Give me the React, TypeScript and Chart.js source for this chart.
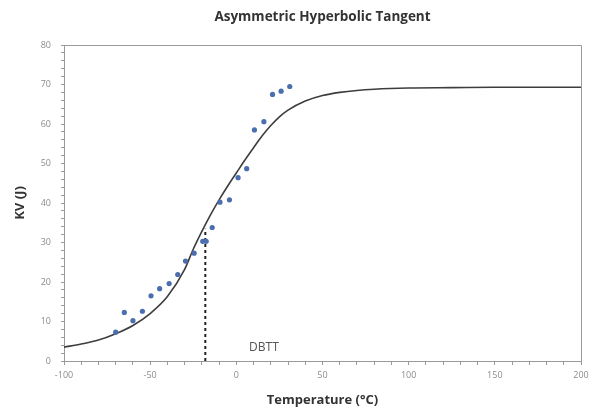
import React, { useEffect, useRef } from "react";
import { Chart, registerables } from "chart.js";

Chart.register(...registerables);

// Measured Charpy impact energies
const testTemps = [-70, -65, -60, -54.5, -49.5, -44.5, -39, -34, -29.5, -24.5, -19.5, -17.5, -14, -9.5, -4, 1, 6, 10.5, 16, 21, 26, 31];
const testKV = [7.3, 12.3, 10.2, 12.6, 16.5, 18.3, 19.6, 21.9, 25.3, 27.3, 30.3, 30.3, 33.8, 40.2, 40.8, 46.4, 48.7, 58.5, 60.6, 67.5, 68.3, 69.5];

// Fitted asymmetric hyperbolic tangent curve
const fitTemps = [-100, -90, -80, -70, -60, -50, -40, -30, -25, -20, -15, -10, -5, 0, 5, 10, 15, 20, 25, 30, 40, 50, 60, 70, 80, 100, 125, 150, 200];
const fitKV = [3.5, 4.3, 5.3, 6.9, 9.0, 12.0, 16.3, 23.2, 28.3, 32.8, 37.0, 40.8, 44.3, 47.6, 50.9, 54.0, 57.0, 59.6, 61.8, 63.5, 65.8, 67.2, 68.0, 68.5, 68.8, 69.1, 69.2, 69.3, 69.3];

// Ductile-brittle transition temperature marker
const dbttTemp = -18;
const dbttKV = [0, 33.5];
const dbttLabel = "DBTT";
const dbttLabelAt = { x: 16, y: 3.3 };

const titleText = "Asymmetric Hyperbolic Tangent";
const xTitle = "Temperature (°C)";
const yTitle = "KV (J)";

const AXIS_GRAY = "#9a9a9a";
const TICK_GRAY = "#8c8c8c";

const frameAndLabel = {
  id: "frameAndLabel",
  afterDatasetsDraw(chart: any) {
    const { ctx, chartArea, scales } = chart;
    ctx.save();
    ctx.strokeStyle = AXIS_GRAY;
    ctx.lineWidth = 1;
    ctx.beginPath();
    ctx.moveTo(chartArea.left, chartArea.top + 0.5);
    ctx.lineTo(chartArea.right + 0.5, chartArea.top + 0.5);
    ctx.lineTo(chartArea.right + 0.5, chartArea.bottom);
    ctx.stroke();
    ctx.fillStyle = "#555555";
    ctx.font = "12px 'Open Sans', sans-serif";
    ctx.textAlign = "center";
    ctx.textBaseline = "middle";
    ctx.fillText(dbttLabel, scales.x.getPixelForValue(dbttLabelAt.x), scales.y.getPixelForValue(dbttLabelAt.y));
    ctx.restore();
  },
};

export default function App() {
  const canvasRef = useRef<HTMLCanvasElement | null>(null);

  useEffect(() => {
    document.body.style.margin = "0";
    const canvas = canvasRef.current;
    if (!canvas) return;
    const chart = new Chart(canvas, {
      type: "scatter",
      data: {
        datasets: [
          {
            type: "line",
            label: "Fit",
            data: fitTemps.map((t, i) => ({ x: t, y: fitKV[i] })),
            borderColor: "#3d3d3d",
            borderWidth: 1.6,
            pointRadius: 0,
            cubicInterpolationMode: "monotone",
            fill: false,
            order: 2,
          },
          {
            type: "line",
            label: "DBTT",
            data: dbttKV.map((v) => ({ x: dbttTemp, y: v })),
            borderColor: "#222222",
            borderWidth: 2,
            borderDash: [3, 3],
            pointRadius: 0,
            fill: false,
            order: 3,
          },
          {
            label: "KV",
            data: testTemps.map((t, i) => ({ x: t, y: testKV[i] })),
            backgroundColor: "#4a6eae",
            borderColor: "#4a6eae",
            pointRadius: 2.6,
            borderWidth: 0,
            order: 1,
          },
        ],
      },
      options: {
        animation: false,
        responsive: false,
        layout: { padding: { left: 0, right: 9, top: 0, bottom: 0 } },
        plugins: {
          legend: { display: false },
          tooltip: { enabled: false },
          title: {
            display: true,
            text: titleText,
            fullSize: false,
            color: "#333333",
            font: { family: "'Open Sans', sans-serif", size: 13.5, weight: "bold" },
            padding: { top: 9, bottom: 19.8 },
          },
        },
        scales: {
          x: {
            type: "linear",
            min: -100,
            max: 200,
            afterFit: (s: any) => {
              s.height = 49;
              s.paddingLeft = 0;
              s.paddingRight = 0;
            },
            ticks: {
              stepSize: 10,
              autoSkip: false,
              maxRotation: 0,
              color: TICK_GRAY,
              font: { family: "'Open Sans', sans-serif", size: 9 },
              padding: 5,
              callback: (v: any) => (Number(v) % 50 === 0 ? String(v) : ""),
            },
            grid: { drawOnChartArea: false, tickLength: 4, color: AXIS_GRAY },
            border: { color: AXIS_GRAY },
            title: {
              display: true,
              text: xTitle,
              color: "#333333",
              font: { family: "'Open Sans', sans-serif", size: 13, weight: "bold" },
              padding: { top: 0, bottom: 2.2 },
            },
          },
          y: {
            min: 0,
            max: 80,
            afterFit: (s: any) => { s.width = 64; },
            ticks: {
              stepSize: 2,
              autoSkip: false,
              color: TICK_GRAY,
              font: { family: "'Open Sans', sans-serif", size: 9 },
              padding: 10,
              callback: (v: any) => (Number(v) % 10 === 0 ? String(v) : ""),
            },
            grid: { drawOnChartArea: false, tickLength: 3, color: AXIS_GRAY },
            border: { color: AXIS_GRAY },
            title: {
              display: true,
              text: yTitle,
              color: "#333333",
              font: { family: "'Open Sans', sans-serif", size: 13, weight: "bold" },
              padding: { top: 12.2, bottom: 0 },
            },
          },
        },
      },
      plugins: [frameAndLabel],
    });
    return () => chart.destroy();
  }, []);

  return <canvas ref={canvasRef} width={590} height={410} style={{ display: "block" }} />;
}
